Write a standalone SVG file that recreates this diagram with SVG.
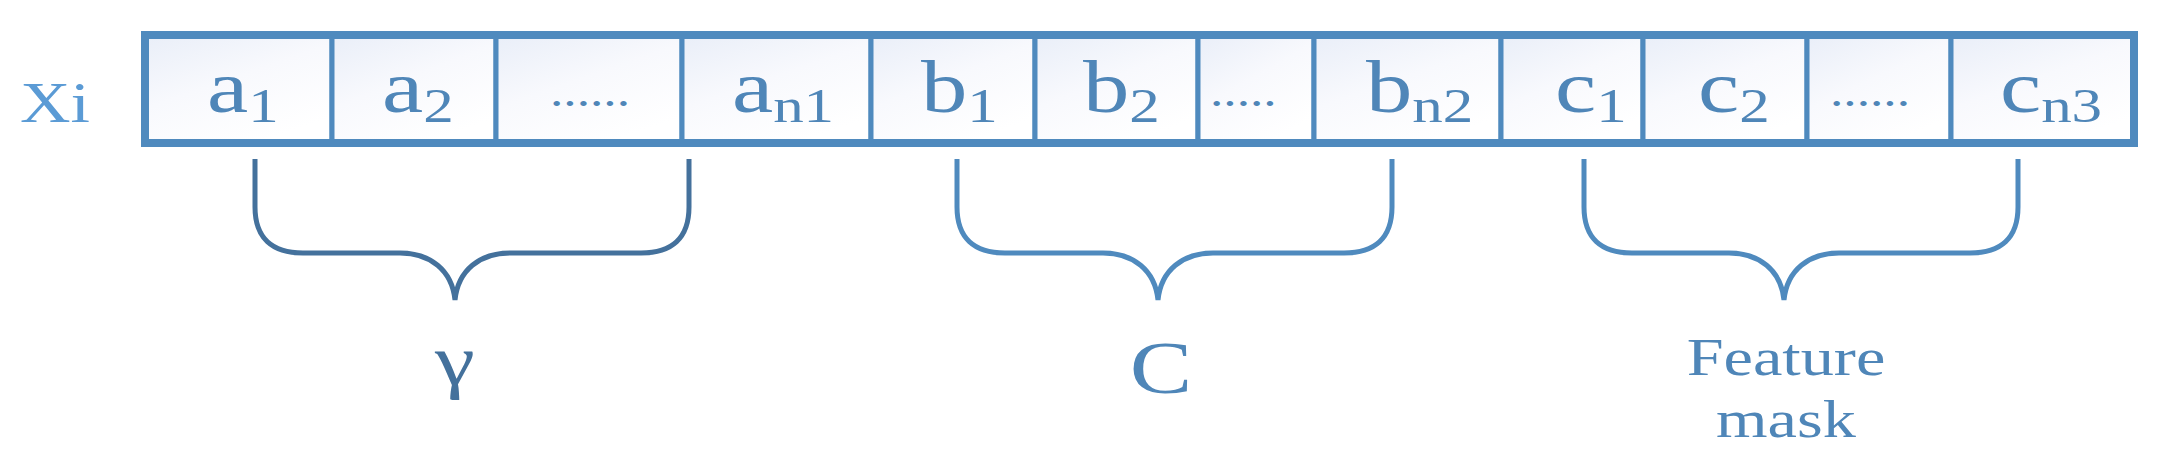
<svg xmlns="http://www.w3.org/2000/svg" width="2159" height="463" viewBox="0 0 2159 463">
<defs>
<linearGradient id="g" x1="0" y1="0" x2="0.6" y2="1"><stop offset="0" stop-color="#e9eef8"/><stop offset="0.5" stop-color="#f8f9fd"/><stop offset="1" stop-color="#ffffff"/></linearGradient>
</defs>
<style>
.cell{fill:url(#g);stroke:#4f8abe;stroke-width:5}
.t{font-family:"Liberation Serif",serif;fill:#4f86b8;font-size:73px}
.s{font-size:48px}
.d{font-family:"Liberation Serif",serif;fill:#4f86b8;font-size:42px}
.br{fill:none;stroke:#4f8abe;stroke-width:5}
</style>
<rect x="0" y="0" width="2159" height="463" fill="#fff"/>
<g id="array">
<rect class="cell" x="145" y="35" width="187" height="108"/>
<rect class="cell" x="332" y="35" width="164" height="108"/>
<rect class="cell" x="496" y="35" width="186" height="108"/>
<rect class="cell" x="682" y="35" width="189" height="108"/>
<rect class="cell" x="871" y="35" width="164" height="108"/>
<rect class="cell" x="1035" y="35" width="163" height="108"/>
<rect class="cell" x="1198" y="35" width="116" height="108"/>
<rect class="cell" x="1314" y="35" width="187" height="108"/>
<rect class="cell" x="1501" y="35" width="142" height="108"/>
<rect class="cell" x="1643" y="35" width="164" height="108"/>
<rect class="cell" x="1807" y="35" width="144" height="108"/>
<rect class="cell" x="1951" y="35" width="183" height="108"/>
<rect x="145" y="35" width="1989" height="108" fill="none" stroke="#4f8abe" stroke-width="8"/>
</g>
<g id="labels">
<text class="t" style="font-size:56px;fill:#5b9bd5" transform="translate(20,122) scale(1.25,1)">Xi</text>
<text class="t" transform="translate(207,112) scale(1.27,1)">a<tspan class="s" dy="10">1</tspan></text>
<text class="t" transform="translate(382,112) scale(1.27,1)">a<tspan class="s" dy="10">2</tspan></text>
<text class="d" transform="translate(550,106) scale(1.27,1)">......</text>
<text class="t" transform="translate(732,112) scale(1.27,1)">a<tspan class="s" dy="10">n1</tspan></text>
<text class="t" transform="translate(921,112) scale(1.27,1)">b<tspan class="s" dy="10">1</tspan></text>
<text class="t" transform="translate(1083,112) scale(1.27,1)">b<tspan class="s" dy="10">2</tspan></text>
<text class="d" transform="translate(1210,106) scale(1.27,1)">.....</text>
<text class="t" transform="translate(1366,112) scale(1.27,1)">b<tspan class="s" dy="10">n2</tspan></text>
<text class="t" transform="translate(1555,112) scale(1.27,1)">c<tspan class="s" dy="10">1</tspan></text>
<text class="t" transform="translate(1698,112) scale(1.27,1)">c<tspan class="s" dy="10">2</tspan></text>
<text class="d" transform="translate(1830,106) scale(1.27,1)">......</text>
<text class="t" transform="translate(2000,112) scale(1.27,1)">c<tspan class="s" dy="10">n3</tspan></text>
</g>
<g id="connectors">
<path class="br" style="stroke:#44719c" d="M255,159 V207 C255,238 272,253 303,253 H400 C430,253 452,270 455,300 C458,270 480,253 510,253 H641 C672,253 689,238 689,207 V159"/>
<path class="br" d="M957,159 V207 C957,238 974,253 1005,253 H1103 C1133,253 1155,270 1158,300 C1161,270 1183,253 1213,253 H1344 C1375,253 1392,238 1392,207 V159"/>
<path class="br" d="M1584,159 V207 C1584,238 1601,253 1632,253 H1729 C1759,253 1781,270 1784,300 C1787,270 1809,253 1839,253 H1970 C2001,253 2018,238 2018,207 V159"/>
</g>
<g id="brace-labels">
<text class="t" style="font-size:72px;fill:#44719c" text-anchor="middle" transform="translate(455,385) scale(1.25,1)">γ</text>
<text class="t" style="font-size:75px" text-anchor="middle" transform="translate(1161,393) scale(1.25,1)">C</text>
<text class="t" style="font-size:53px" text-anchor="middle" transform="translate(1786,375) scale(1.25,1)">Feature</text>
<text class="t" style="font-size:53px" text-anchor="middle" transform="translate(1786,437) scale(1.25,1)">mask</text>
</g>
</svg>
